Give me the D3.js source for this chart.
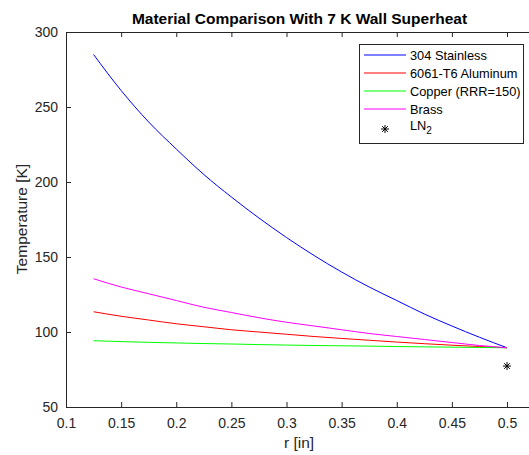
<!DOCTYPE html>
<html><head><meta charset="utf-8">
<script src="https://cdn.jsdelivr.net/npm/d3@7"></script>
<style>
body{margin:0;background:#fff;}
svg{display:block;font-family:"Liberation Sans",Arial,Helvetica,sans-serif;}
</style></head>
<body><svg id="c" width="529" height="455"></svg>
<script>
const radius = [0.125,0.15,0.175,0.2,0.225,0.25,0.275,0.3,0.325,0.35,0.375,0.4,0.425,0.45,0.475,0.5];
const stainless = [285,261,240,222,205,190,176,163,151,140,130,121,112,104,96.5,89.5];
const aluminum = [113.5,110.5,108,105.5,103.5,101.5,100,98.5,97,95.7,94.5,93.3,92.2,91.2,90.3,89.5];
const copper = [94.2,93.6,93.1,92.7,92.3,92.0,91.6,91.3,91.0,90.8,90.6,90.3,90.1,89.9,89.7,89.5];
const brass = [135.5,130,125.5,121,116.5,113,109.5,106.5,104,101.5,99,97,95,93,91,89.5];
const ln2Point = [0.5, 77.3];
const seriesNames = ["304 Stainless","6061-T6 Aluminum","Copper (RRR=150)","Brass"];
const seriesColors = ["#0000ff","#ff0000","#00ff00","#ff00ff"];
const xTicks = [0.1,0.15,0.2,0.25,0.3,0.35,0.4,0.45,0.5];
const yTicks = [50,100,150,200,250,300];
const titleText = "Material Comparison With 7 K Wall Superheat";

const svg = d3.select("#c");
const L = 66, T = 32, B = 407;
const x = d3.scaleLinear().domain([0.1,0.5]).range([L,507]);
const R = 534;
const y = d3.scaleLinear().domain([50,300]).range([B,T]);
const axisCol = "#262626";

const xAxis = svg.append("g").attr("transform",`translate(0,${B})`)
  .call(d3.axisBottom(x).tickValues(xTicks).tickSize(-5).tickPadding(11).tickFormat(d3.format("")));
const yAxis = svg.append("g").attr("transform",`translate(${L},0)`)
  .call(d3.axisLeft(y).tickValues(yTicks).tickSize(-5).tickPadding(8));
const xTop = svg.append("g").attr("transform",`translate(0,${T})`)
  .call(d3.axisTop(x).tickValues(xTicks).tickSize(-5).tickFormat(""));
[xAxis,yAxis,xTop].forEach(g=>{
  g.select(".domain").remove();
  g.selectAll(".tick line").attr("stroke",axisCol);
  g.selectAll("text").attr("fill",axisCol).style("font-size","14px").style("font-family","'Liberation Sans',Arial,sans-serif");
});
// frame
svg.append("path").attr("d",`M${R},${T}H${L}V${B}H${R}`).attr("fill","none").attr("stroke",axisCol).attr("stroke-width",1).attr("shape-rendering","crispEdges");

const allSeries = [stainless,aluminum,copper,brass];
const line = d3.line().x((d,i)=>x(radius[i])).y(d=>y(d)).curve(d3.curveMonotoneX);
allSeries.forEach((s,k)=>{
  svg.append("path").datum(s).attr("d",line).attr("fill","none")
    .attr("stroke",seriesColors[k]).attr("stroke-width",1);
});

function star(g,cx,cy,r){
  const p = d3.path();
  for(let a=0;a<4;a++){
    const ang = a*Math.PI/4;
    p.moveTo(cx-r*Math.cos(ang),cy-r*Math.sin(ang));
    p.lineTo(cx+r*Math.cos(ang),cy+r*Math.sin(ang));
  }
  g.append("path").attr("d",p.toString()).attr("stroke","#000").attr("stroke-width",1).attr("fill","none");
}
star(svg,x(ln2Point[0]),y(ln2Point[1]),4);

// title & labels
svg.append("text").attr("x",299.5).attr("y",24).attr("text-anchor","middle")
  .style("font-weight","bold").style("font-size","15.5px").attr("fill","#000").text(titleText);
svg.append("text").attr("x",299).attr("y",448).attr("text-anchor","middle")
  .style("font-size","15.5px").attr("fill",axisCol).text("r [in]");
svg.append("text").attr("transform","translate(27,219) rotate(-90)").attr("text-anchor","middle")
  .style("font-size","15.5px").attr("fill",axisCol).text("Temperature [K]");

// legend
const lg = svg.append("g");
lg.append("rect").attr("x",359.5).attr("y",44.5).attr("width",164).attr("height",99)
  .attr("fill","#fff").attr("stroke",axisCol).attr("stroke-width",1);
seriesNames.forEach((n,k)=>{
  const yy = 55 + k*18;
  lg.append("line").attr("x1",364).attr("x2",406).attr("y1",yy).attr("y2",yy).attr("stroke",seriesColors[k]).attr("stroke-width",1);
  lg.append("text").attr("x",410).attr("y",yy+4.5).style("font-size","12.8px").attr("fill","#000").text(n);
});
star(lg,385,129,4);
const lt = lg.append("text").attr("x",410).attr("y",130).style("font-size","12.8px").attr("fill","#000");
lt.append("tspan").text("LN");
lt.append("tspan").attr("dy",4).style("font-size","10px").text("2");
</script></body></html>
